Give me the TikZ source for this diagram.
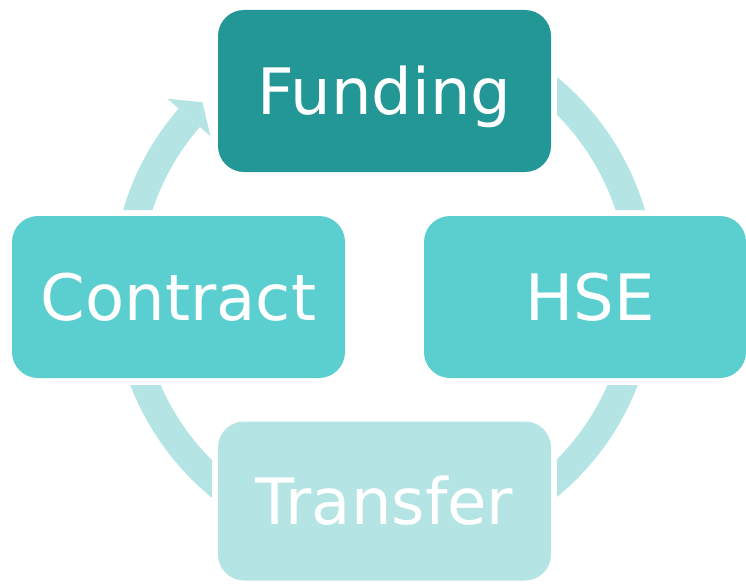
\documentclass[tikz,border=0pt]{standalone}
\usepackage{fontspec}
\setmainfont{DejaVu Sans}
\usetikzlibrary{calc}
\definecolor{darkteal}{HTML}{239696}
\definecolor{midteal}{HTML}{5BCFCF}
\definecolor{paleteal}{HTML}{B4E4E4}
\tikzset{
  stage/.style={rounded corners=26pt, text=white, minimum height=162pt, inner sep=0pt,
    text height=47pt, text depth=0pt, font=\fontsize{64}{70}\selectfont}
}
\begin{document}
\begin{tikzpicture}[x=1pt,y=-1pt]
\useasboundingbox[fill=white] (0,0) rectangle (746,583);
\coordinate (c) at (384,287);
% ring, cut open round the boxes
\begin{scope}[even odd rule]
\path[clip] (0,0) rectangle (746,583)
  (212,4) rectangle (557,178) (6,210) rectangle (351,385)
  (418,210) rectangle (752,385) (212,416) rectangle (557,589);
\draw[paleteal,line width=28pt] (c) ++(240:258) arc[start angle=240,end angle=581,radius=258];
\end{scope}
\fill[paleteal] ($(c)+(221:287)$) -- ($(c)+(225.5:259)$) -- ($(c)+(221:230)$) -- cycle;
% boxes
\node[stage,fill=darkteal,minimum width=333pt] (funding) at (384.5,91) {Funding};
\node[stage,fill=midteal,minimum width=333pt] (contract) at (178.5,297) {Contract};
\node[stage,fill=midteal,minimum width=322pt] (hse) at (585,297) {\hspace*{10pt}HSE};
\node[stage,fill=paleteal,minimum width=333pt,minimum height=159pt] (transfer) at (384.5,501) {Transfer};
\end{tikzpicture}
\end{document}
